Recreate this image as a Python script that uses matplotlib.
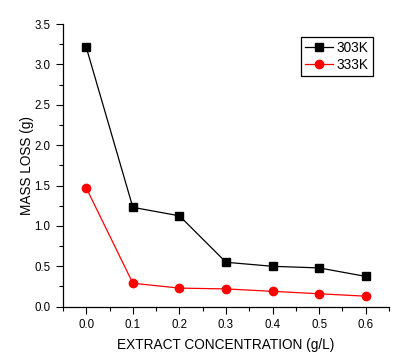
import matplotlib
matplotlib.use("Agg")
import matplotlib.pyplot as plt
from matplotlib.ticker import MultipleLocator

plt.rcParams['font.family'] = ['Liberation Sans', 'DejaVu Sans']

conc = [0.0, 0.1, 0.2, 0.3, 0.4, 0.5, 0.6]
loss_303 = [3.21, 1.23, 1.125, 0.55, 0.50, 0.48, 0.375]
loss_333 = [1.47, 0.29, 0.23, 0.22, 0.19, 0.16, 0.13]
xticks = [0.0, 0.1, 0.2, 0.3, 0.4, 0.5, 0.6]
yticks = [0.0, 0.5, 1.0, 1.5, 2.0, 2.5, 3.0, 3.5]

fig = plt.figure(figsize=(4.0, 3.62), dpi=100)
ax = fig.add_axes([0.1575, 0.1528, 0.815, 0.7809])

ax.plot(conc, loss_303, color='black', lw=0.9, marker='s', ms=5.5, label='303K')
ax.plot(conc, loss_333, color='red', lw=0.9, marker='o', ms=6, label='333K')

ax.set_xlim(-0.05, 0.65)
ax.set_ylim(0, 3.5)
ax.set_xticks(xticks)
ax.set_xticklabels([f"{v:.1f}" for v in xticks])
ax.set_yticks(yticks)
ax.set_yticklabels([f"{v:.1f}" for v in yticks])
ax.xaxis.set_minor_locator(MultipleLocator(0.05))
ax.yaxis.set_minor_locator(MultipleLocator(0.25))
ax.tick_params(which='major', direction='out', length=5, width=0.8, labelsize=8.3, pad=4)
ax.tick_params(which='minor', direction='out', length=3, width=0.8)
ax.spines['top'].set_visible(False)
ax.spines['right'].set_visible(False)
ax.spines['left'].set_linewidth(0.9)
ax.spines['bottom'].set_linewidth(0.9)

ax.set_xlabel('EXTRACT CONCENTRATION (g/L)', fontsize=9.8, labelpad=5)
ax.set_ylabel('MASS LOSS (g)', fontsize=9.8, labelpad=0)

leg = ax.legend(loc='upper right', bbox_to_anchor=(0.95, 0.955), fontsize=9.8,
                frameon=True, fancybox=False, edgecolor='black', framealpha=1,
                handlelength=2.0, handletextpad=0.3, borderpad=0.3, labelspacing=0.2,
                borderaxespad=0)
leg.get_frame().set_linewidth(0.9)

fig.savefig('out.png', dpi=100)
